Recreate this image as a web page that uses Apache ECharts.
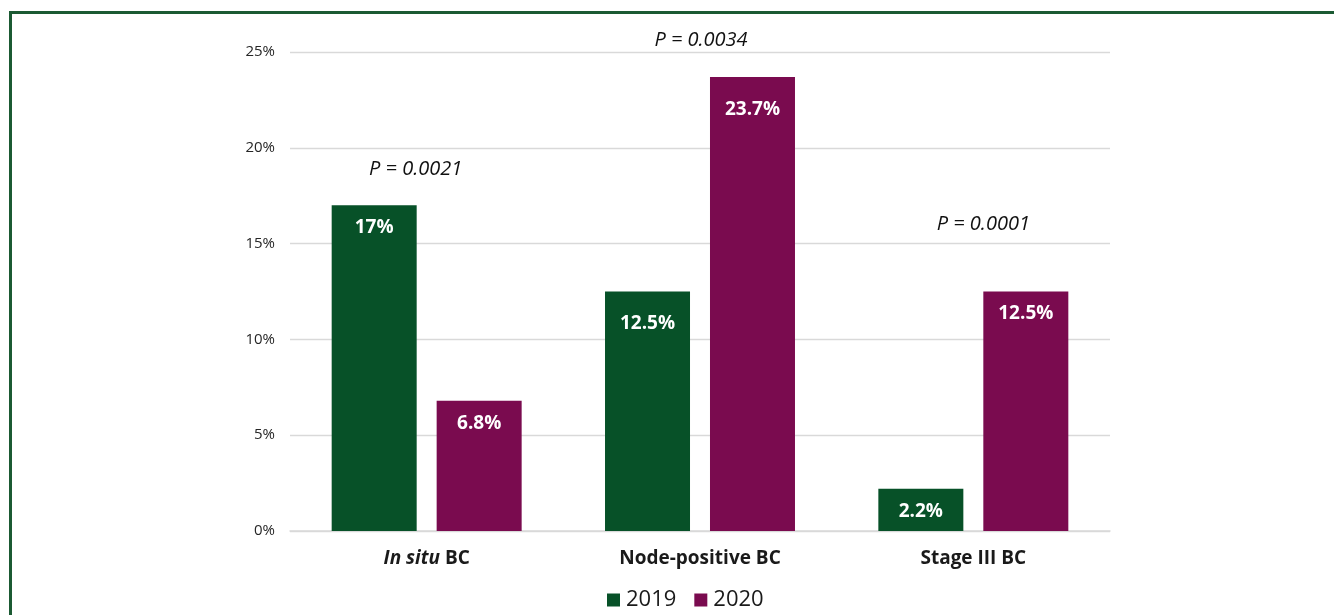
<!DOCTYPE html>
<html>
<head>
<meta charset="utf-8">
<script src="https://cdn.jsdelivr.net/npm/echarts@6/dist/echarts.min.js"></script>
<style>
html,body{margin:0;padding:0;background:#fff;}
#chart{width:1334px;height:615px;position:absolute;left:0;top:0;}
#frame{position:absolute;left:9px;top:11px;width:1340px;height:620px;border-top:3px solid #1b5a33;border-left:3px solid #1b5a33;pointer-events:none;}
</style>
</head>
<body>
<div id="chart"></div>
<div id="frame"></div>
<script>
const categories = ['In situ BC', 'Node-positive BC', 'Stage III BC'];
const seriesNames = ['2019', '2020'];
const values2019 = [17, 12.5, 2.2];
const values2020 = [6.8, 23.7, 12.5];
const valueLabels2019 = ['17%', '12.5%', '2.2%'];
const valueLabels2020 = ['6.8%', '23.7%', '12.5%'];
const pLabels = ['P = 0.0021', 'P = 0.0034', 'P = 0.0001'];
const pLabelLevels = [18.9, 25.6, 16.0];
const yTicks = [0, 5, 10, 15, 20, 25];

const GREEN = '#075128';
const PURPLE = '#7a0b4f';
const FONT = '"Open Sans", "Noto Sans", sans-serif';
const pOffsets = [[-11, 0], [1, 0], [10, 0]];
const labelDistances = [13, 23, 13];

const chart = echarts.init(document.getElementById('chart'));

function barData(values) {
  return values.map((v, i) => ({ value: v, label: { distance: labelDistances[i] } }));
}

function barLabel(labels) {
  return {
    show: true,
    position: 'insideTop',
    distance: 13,
    color: '#ffffff',
    fontFamily: FONT,
    fontWeight: 'bold',
    fontSize: 19,
    formatter: p => labels[p.dataIndex]
  };
}

chart.setOption({
  animation: false,
  backgroundColor: '#ffffff',
  grid: { left: 290, right: 224, top: 52, bottom: 84, containLabel: false },
  legend: {
    data: seriesNames,
    top: 584,
    left: 602,
    itemWidth: 13,
    itemHeight: 13,
    itemGap: 18,
    icon: 'rect',
    textStyle: { fontFamily: FONT, fontSize: 22, color: '#1a1a1a', padding: [0, 0, 0, 1] }
  },
  xAxis: {
    type: 'category',
    data: categories,
    axisLine: { show: true, lineStyle: { color: '#d9d9d9', width: 1.5 } },
    axisTick: { show: false },
    axisLabel: {
      margin: 18,
      fontFamily: FONT,
      fontSize: 19,
      fontWeight: 'bold',
      color: '#1a1a1a',
      formatter: v => v === 'In situ BC' ? '{it|In situ} {b|BC}' : '{b|' + v + '}',
      rich: {
        it: { fontFamily: FONT, fontSize: 19, fontWeight: 'bold', fontStyle: 'italic', color: '#1a1a1a' },
        b: { fontFamily: FONT, fontSize: 19, fontWeight: 'bold', color: '#1a1a1a' }
      }
    }
  },
  yAxis: {
    type: 'value',
    min: yTicks[0],
    max: yTicks[yTicks.length - 1],
    interval: yTicks[1] - yTicks[0],
    axisLine: { show: false },
    axisTick: { show: false },
    splitLine: { lineStyle: { color: '#d9d9d9', width: 1.3 } },
    axisLabel: {
      margin: 15,
      fontFamily: FONT,
      fontSize: 15,
      color: '#262626',
      formatter: v => v + '%'
    }
  },
  series: [
    {
      name: seriesNames[0],
      type: 'bar',
      data: barData(values2019),
      barWidth: 85,
      barGap: '23.5%',
      itemStyle: { color: GREEN },
      label: barLabel(valueLabels2019)
    },
    {
      name: seriesNames[1],
      type: 'bar',
      data: barData(values2020),
      barWidth: 85,
      itemStyle: { color: PURPLE },
      label: barLabel(valueLabels2020)
    },
    {
      name: 'P',
      type: 'scatter',
      clip: false,
      silent: true,
      symbolSize: 0,
      itemStyle: { color: '#000000', opacity: 1 },
      data: pLabelLevels.map((v, i) => ({
        value: v,
        label: { offset: pOffsets[i] }
      })),
      label: {
        show: true,
        position: 'inside',
        fontFamily: FONT,
        fontStyle: 'italic',
        fontSize: 20,
        color: '#111111',
        opacity: 1,
        formatter: p => pLabels[p.dataIndex]
      }
    }
  ]
});
</script>
</body>
</html>
